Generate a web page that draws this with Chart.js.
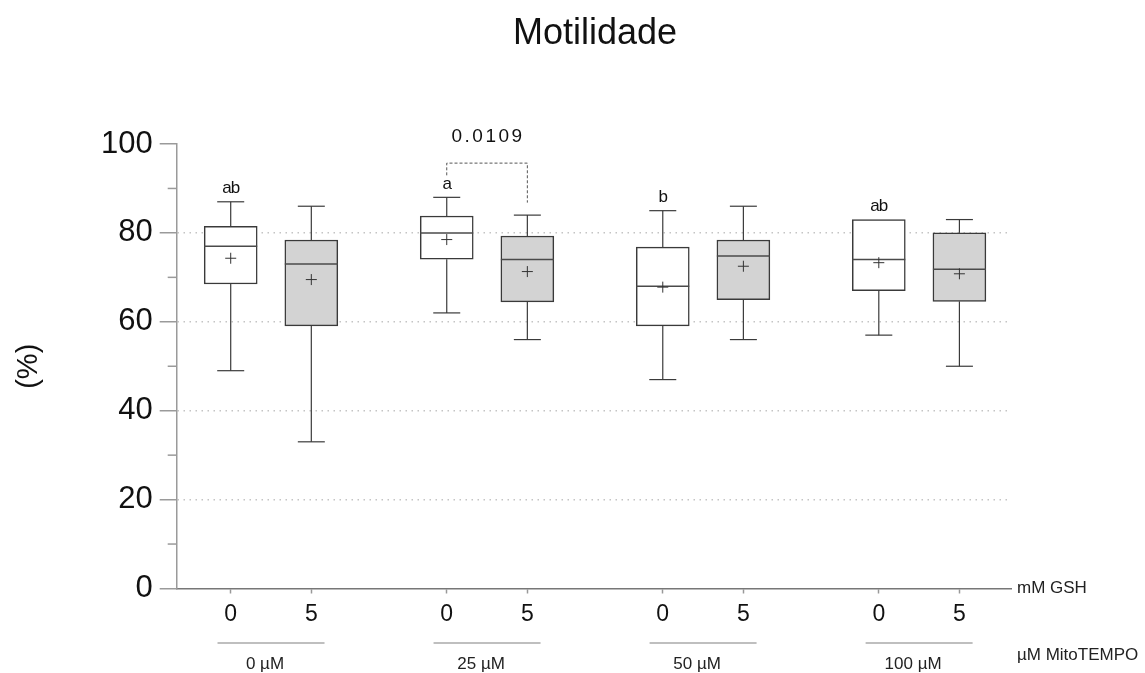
<!DOCTYPE html>
<html>
<head>
<meta charset="utf-8">
<title>Motilidade</title>
<script src="https://cdn.jsdelivr.net/npm/chart.js@4.4.1/dist/chart.umd.min.js"></script>
<style>
  html, body { margin: 0; padding: 0; background: #ffffff; }
  #wrap { width: 1145px; height: 673px; }
</style>
</head>
<body>
<div id="wrap"><canvas id="boxChart" width="1145" height="673"></canvas></div>
<script>
// ----------------------------------------------------
// DATA
// ----------------------------------------------------
const gshLabels = ['0', '5'];                                  // mM GSH
const mitoLabels = ['0 µM', '25 µM', '50 µM', '100 µM'];       // µM MitoTEMPO
const yTicks = [0, 20, 40, 60, 80, 100];

// GSH 0 mM (white boxes)
const gsh0Min    = [49, 62, 47, 57];
const gsh0Q1     = [68.5, 74.1, 59.1, 67.0];
const gsh0Median = [77, 80, 68, 74];
const gsh0Q3     = [81.5, 83.8, 76.8, 83.0];
const gsh0Max    = [87, 88, 85, 83];
const gsh0Mean   = [74.3, 78.5, 67.8, 73.3];
const gsh0Letters = ['ab', 'a', 'b', 'ab'];

// GSH 5 mM (grey boxes)
const gsh5Min    = [33, 56, 56, 50];
const gsh5Q1     = [59.1, 64.5, 65.0, 64.6];
const gsh5Median = [73, 74, 74.8, 71.8];
const gsh5Q3     = [78.4, 79.3, 78.4, 80.0];
const gsh5Max    = [86, 84, 86, 83];
const gsh5Mean   = [69.5, 71.3, 72.5, 70.8];

// pairwise comparison shown with a bracket
const compGroup = 1;          // 25 µM
const compP = '0.0109';

// ----------------------------------------------------
// LAYOUT HELPERS
// ----------------------------------------------------
const GROUP_STEP = 2.68;
const xPos = (g, s) => 1 + g * GROUP_STEP + s;

const series = [
  { min: gsh0Min, q1: gsh0Q1, med: gsh0Median, q3: gsh0Q3, max: gsh0Max, mean: gsh0Mean, fill: '#ffffff' },
  { min: gsh5Min, q1: gsh5Q1, med: gsh5Median, q3: gsh5Q3, max: gsh5Max, mean: gsh5Mean, fill: '#d3d3d3' }
];

const tickPositions = [];
mitoLabels.forEach((m, g) => gshLabels.forEach((l, s) => tickPositions.push(xPos(g, s))));

const FONT = '"Liberation Sans", Arial, Helvetica, sans-serif';

function line(ctx, x1, y1, x2, y2) {
  ctx.beginPath();
  ctx.moveTo(x1, y1);
  ctx.lineTo(x2, y2);
  ctx.stroke();
}

// ----------------------------------------------------
// PLUGIN: whiskers, medians, means, letters, labels
// ----------------------------------------------------
const boxExtras = {
  id: 'boxExtras',
  afterDatasetsDraw(chart) {
    const { ctx, chartArea, scales: { x, y } } = chart;
    ctx.save();

    series.forEach((s, si) => {
      const meta = chart.getDatasetMeta(si);
      meta.data.forEach((bar, g) => {
        const cx = bar.x;
        const half = bar.width / 2;
        const cap = 13.5;

        // whiskers
        ctx.strokeStyle = '#3a3a3a';
        ctx.lineWidth = 1.2;
        line(ctx, cx, y.getPixelForValue(s.q3[g]), cx, y.getPixelForValue(s.max[g]));
        line(ctx, cx, y.getPixelForValue(s.q1[g]), cx, y.getPixelForValue(s.min[g]));
        if (s.max[g] > s.q3[g]) line(ctx, cx - cap, y.getPixelForValue(s.max[g]), cx + cap, y.getPixelForValue(s.max[g]));
        line(ctx, cx - cap, y.getPixelForValue(s.min[g]), cx + cap, y.getPixelForValue(s.min[g]));

        // median
        ctx.strokeStyle = '#4a4a4a';
        ctx.lineWidth = 1.5;
        const my = y.getPixelForValue(s.med[g]);
        line(ctx, cx - half, my, cx + half, my);

        // mean (+)
        ctx.strokeStyle = '#333';
        ctx.lineWidth = 1;
        const py = y.getPixelForValue(s.mean[g]);
        line(ctx, cx - 5.5, py, cx + 5.5, py);
        line(ctx, cx, py - 5.5, cx, py + 5.5);

        // significance letters over the GSH 0 boxes
        if (si === 0 && gsh0Letters[g]) {
          ctx.fillStyle = '#111';
          ctx.font = '17px ' + FONT;
          ctx.textAlign = 'center';
          ctx.textBaseline = 'middle';
          ctx.letterSpacing = '-1px';
          ctx.fillText(gsh0Letters[g], cx, y.getPixelForValue(s.max[g]) - 13);
          ctx.letterSpacing = '0px';
        }
      });
    });

    // comparison bracket
    const b0 = chart.getDatasetMeta(0).data[compGroup];
    const b1 = chart.getDatasetMeta(1).data[compGroup];
    const topY = y.getPixelForValue(95.7);
    const leftEnd = y.getPixelForValue(gsh0Max[compGroup]) - 22;
    const rightEnd = y.getPixelForValue(gsh5Max[compGroup]) - 12.5;
    ctx.strokeStyle = '#555';
    ctx.lineWidth = 1;
    ctx.setLineDash([3, 2]);
    ctx.beginPath();
    ctx.moveTo(b0.x, leftEnd);
    ctx.lineTo(b0.x, topY);
    ctx.lineTo(b1.x, topY);
    ctx.lineTo(b1.x, rightEnd);
    ctx.stroke();
    ctx.setLineDash([]);
    ctx.fillStyle = '#111';
    ctx.font = '19px ' + FONT;
    ctx.textAlign = 'center';
    ctx.textBaseline = 'middle';
    ctx.letterSpacing = '2.5px';
    ctx.fillText(compP, (b0.x + b1.x) / 2 + 1, topY - 26);
    ctx.letterSpacing = '0px';

    // minor y ticks
    ctx.strokeStyle = '#9a9a9a';
    ctx.lineWidth = 1.5;
    [10, 30, 50, 70, 90].forEach(v => {
      const ty = y.getPixelForValue(v);
      line(ctx, chartArea.left - 9, ty, chartArea.left, ty);
    });

    // group lines and MitoTEMPO labels
    mitoLabels.forEach((m, g) => {
      const gx = (x.getPixelForValue(xPos(g, 0)) + x.getPixelForValue(xPos(g, 1))) / 2;
      ctx.strokeStyle = '#aaaaaa';
      ctx.lineWidth = 1.5;
      line(ctx, gx - 53.5, 643, gx + 53.5, 643);
      ctx.fillStyle = '#222';
      ctx.font = '17px ' + FONT;
      ctx.textAlign = 'center';
      ctx.textBaseline = 'middle';
      ctx.fillText(m, gx - 6, 664);
    });

    // axis names at the right
    ctx.fillStyle = '#222';
    ctx.font = '17px ' + FONT;
    ctx.textAlign = 'left';
    ctx.textBaseline = 'middle';
    ctx.fillText('mM GSH', chartArea.right + 6, chartArea.bottom);
    ctx.fillText('µM MitoTEMPO', chartArea.right + 6, 655);

    // title
    ctx.fillStyle = '#111';
    ctx.font = '36px ' + FONT;
    ctx.textAlign = 'center';
    ctx.fillText('Motilidade', 595, 34);

    ctx.restore();
  }
};

// ----------------------------------------------------
// CHART
// ----------------------------------------------------
const ctx = document.getElementById('boxChart');

new Chart(ctx, {
  type: 'bar',
  data: {
    datasets: series.map((s, si) => ({
      label: gshLabels[si] + ' mM GSH',
      data: mitoLabels.map((m, g) => ({ x: xPos(g, si), y: [s.q1[g], s.q3[g]] })),
      backgroundColor: s.fill,
      borderColor: '#3a3a3a',
      borderWidth: 1.5,
      borderSkipped: false,
      barThickness: 53,
      grouped: false
    }))
  },
  options: {
    responsive: false,
    animation: false,
    layout: { padding: { top: 144, right: 134, left: 0, bottom: 0 } },
    plugins: {
      legend: { display: false },
      tooltip: { enabled: false },
      title: { display: false }
    },
    scales: {
      x: {
        type: 'linear',
        min: 0.33,
        max: 10.68,
        offset: false,
        afterBuildTicks: axis => { axis.ticks = tickPositions.map(v => ({ value: v })); },
        afterFit: axis => { axis.height = 84.5; },
        ticks: {
          autoSkip: false,
          maxRotation: 0,
          padding: 7,
          color: '#111',
          font: { family: FONT, size: 23 },
          callback: (value, index) => gshLabels[index % gshLabels.length]
        },
        grid: { offset: false, drawOnChartArea: false, tickLength: 5, tickColor: '#999', tickWidth: 1.5 },
        border: { color: '#777', width: 1.5 }
      },
      y: {
        min: 0,
        max: 100,
        afterBuildTicks: axis => {
          const t = [];
          for (let v = 0; v <= 100; v += 10) t.push({ value: v });
          axis.ticks = t;
        },
        afterFit: axis => { axis.width = 176.7; },
        ticks: {
          padding: 7,
          color: '#111',
          font: { family: FONT, size: 31 },
          callback: v => (yTicks.includes(v) ? String(v) : '')
        },
        grid: {
          color: c => (c.tick && c.tick.value % 20 === 0 && c.tick.value > 0 && c.tick.value < 100) ? '#c4c4c4' : 'rgba(0,0,0,0)',
          lineWidth: 1.5,
          tickLength: 17,
          tickWidth: 1.5,
          tickColor: c => (c.tick && c.tick.value % 20 === 0) ? '#9a9a9a' : 'rgba(0,0,0,0)',
          tickBorderDash: []
        },
        border: { color: '#9a9a9a', width: 1.5, dash: [1.5, 4.5] },
        title: {
          display: true,
          text: '(%)',
          color: '#111',
          font: { family: FONT, size: 29 },
          padding: { top: 12, bottom: 0 }
        }
      }
    }
  },
  plugins: [boxExtras]
});
</script>
</body>
</html>
